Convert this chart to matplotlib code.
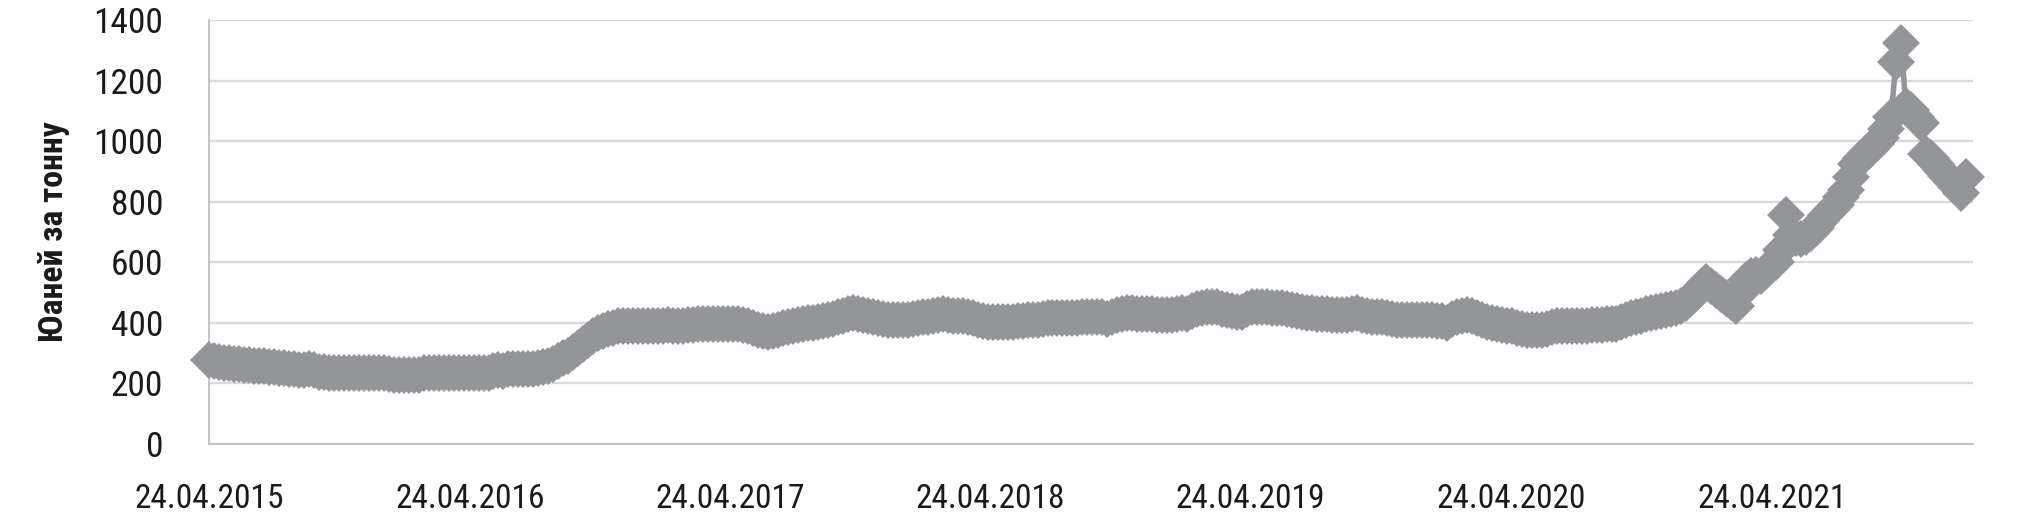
import pandas as pd
import matplotlib
matplotlib.use('Agg')
import matplotlib.pyplot as plt
import matplotlib.dates as mdates
from matplotlib import font_manager

# weekly price, yuan per tonne, first week 24.04.2015
prices_2015 = [276, 274, 271, 269, 267, 265, 263, 262, 261, 259, 258, 256, 255,
               253, 252, 250, 249, 247, 245, 244, 246, 243, 239, 237, 236, 236,
               236, 236, 235, 235, 236, 236, 236, 235, 235, 236, 230, 229, 229,
               228, 229, 229, 228, 233, 234, 234, 234, 235, 235, 235, 235, 235]
prices_2016 = [235, 236, 236, 235, 236, 242, 244, 241, 246, 247, 247, 247, 248,
               248, 250, 253, 258, 265, 274, 283, 291, 305, 318, 330, 344, 357,
               366, 373, 379, 384, 388, 389, 390, 389, 389, 389, 389, 388, 388,
               388, 392, 388, 390, 391, 393, 394, 395, 396, 397, 397, 397, 397]
prices_2017 = [397, 397, 396, 393, 388, 383, 378, 374, 371, 372, 377, 383, 387,
               390, 393, 396, 399, 401, 404, 406, 409, 413, 418, 424, 428, 431,
               428, 425, 422, 419, 416, 413, 411, 410, 410, 410, 411, 413, 416,
               418, 420, 423, 426, 428, 425, 423, 422, 421, 420, 415, 408, 405]
prices_2018 = [404, 403, 403, 403, 404, 404, 405, 407, 408, 410, 411, 413, 415,
               415, 416, 416, 416, 417, 417, 418, 418, 418, 418, 420, 412, 420,
               425, 430, 432, 431, 430, 429, 428, 428, 427, 427, 426, 426, 429,
               434, 428, 440, 446, 449, 451, 452, 451, 447, 442, 439, 436, 435]
prices_2019 = [446, 451, 453, 454, 453, 450, 448, 448, 446, 443, 440, 437, 434,
               432, 430, 429, 428, 427, 426, 426, 426, 428, 431, 425, 422, 420,
               419, 418, 415, 412, 410, 409, 409, 409, 409, 409, 408, 408, 407,
               406, 400, 413, 420, 423, 425, 422, 416, 410, 404, 399, 395, 392]
prices_2020 = [390, 389, 384, 379, 376, 378, 377, 376, 381, 386, 390, 391, 390,
               390, 390, 391, 391, 392, 393, 394, 395, 396, 397, 403, 410, 416,
               420, 424, 429, 432, 435, 440, 442, 445, 450, 455, 465, 482, 500,
               518, 536, 522, 508, 495, 481, 468, 455, 500, 540, 555, 558, 555,
               570]
prices_2021 = [590, 602, 640, 756, 690, 680, 676, 685, 696, 713, 735, 755, 772,
               790, 815, 838, 880, 925, 944, 960, 975, 990, 1010, 1040, 1080, 1262,
               1323, 1115, 1103, 1080, 1059, 958, 945, 925, 905, 885, 868, 848, 830,
               882]

prices = (prices_2015 + prices_2016 + prices_2017 + prices_2018
          + prices_2019 + prices_2020 + prices_2021)
weeks = pd.date_range('2015-04-24', periods=len(prices), freq='7D')

tick_dates = pd.to_datetime(['2015-04-24', '2016-04-24', '2017-04-24', '2018-04-24',
                             '2019-04-24', '2020-04-24', '2021-04-24'])
y_ticks = [0, 200, 400, 600, 800, 1000, 1200, 1400]
y_title = 'Юаней за тонну'

# pick a narrow face if there is one
names = {f.name for f in font_manager.fontManager.ttflist}
family = 'DejaVu Sans'
for cand in ['Roboto Condensed', 'Liberation Sans Narrow', 'Open Sans Condensed',
             'DejaVu Sans Condensed']:
    if cand in names:
        family = cand
        break
plt.rcParams['font.family'] = [family, 'DejaVu Sans']

grey = '#939598'

fig = plt.figure(figsize=(20.18, 5.2), dpi=100)
ax = fig.add_axes([209 / 2018, 1 - 444 / 520, (1973 - 209) / 2018, (444 - 20) / 520])

ax.plot(weeks, prices, color=grey, lw=4, marker='D', markersize=19.5,
        markeredgewidth=0, solid_joinstyle='miter', zorder=3, clip_on=False)

ax.set_ylim(0, 1400)
ax.set_yticks(y_ticks)
ax.set_xlim(pd.Timestamp('2015-04-24'), pd.Timestamp('2022-01-31'))
ax.set_xticks(tick_dates)
ax.xaxis.set_major_formatter(mdates.DateFormatter('%d.%m.%Y'))

ax.grid(axis='y', color='#d9d9d9', lw=1.7, zorder=0)
ax.set_axisbelow(True)
for side in ['top', 'right']:
    ax.spines[side].set_visible(False)
for side in ['left', 'bottom']:
    ax.spines[side].set_color('#bfbfbf')
    ax.spines[side].set_linewidth(1.3)

ax.tick_params(axis='both', length=0, colors='#1a1a1a')
ax.tick_params(axis='y', pad=33, labelsize=25.5)
ax.tick_params(axis='x', pad=28, labelsize=24)

ax.set_ylabel(y_title, fontsize=24.3, fontweight='bold', color='#1a1a1a', labelpad=17)

fig.savefig('out.png', dpi=100)
